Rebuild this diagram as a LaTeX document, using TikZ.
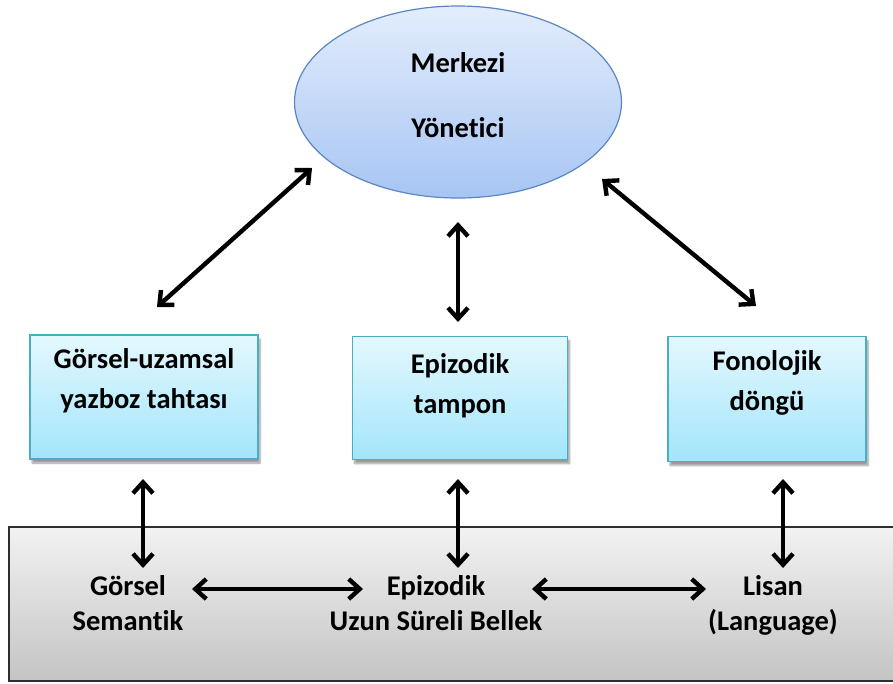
\documentclass[tikz,border=0pt]{standalone}
\usepackage{fontspec}
\setmainfont{Carlito}[Ligatures=NoCommon]
\usetikzlibrary{arrows.meta,shapes.geometric,shadows.blur}

\definecolor{ovalTop}{HTML}{E3EDFC}
\definecolor{ovalBot}{HTML}{A7C5F3}
\definecolor{ovalLine}{HTML}{5A86C2}
\definecolor{boxTop}{HTML}{E4F8FE}
\definecolor{boxBot}{HTML}{A3E5FB}
\definecolor{boxLine}{HTML}{4BACC6}
\definecolor{ltmTop}{HTML}{F2F2F2}
\definecolor{ltmBot}{HTML}{C4C4C4}
\definecolor{ltmLine}{HTML}{2E2E2E}

\tikzset{
  oval/.style={ellipse, draw=ovalLine, line width=1.2pt,
    top color=ovalTop, bottom color=ovalBot,
    minimum width=327pt, minimum height=192pt, inner sep=0pt},
  ovaltext/.style={align=center, inner sep=0pt,
    font=\fontsize{28.5}{40}\selectfont\bfseries},
  buffer/.style={rectangle, draw=boxLine, line width=1.5pt,
    top color=boxTop, bottom color=boxBot, inner sep=0pt,
    blur shadow={shadow xshift=2pt, shadow yshift=-4pt, shadow blur steps=6, shadow opacity=40}},
  boxtext/.style={align=center, inner sep=0pt,
    font=\fontsize{28.5}{40}\selectfont\bfseries},
  ltmtext/.style={align=center, inner sep=0pt,
    font=\fontsize{28.5}{35}\selectfont\bfseries},
  arr/.style={line width=4.4pt,
    {Straight Barb[length=11pt,width=20pt]}-{Straight Barb[length=11pt,width=20pt]}}
}

\begin{document}
\begin{tikzpicture}[x=1pt,y=-1pt]
  \useasboundingbox (0,0) rectangle (893,683);

  % long-term memory band
  \path[draw=ltmLine, line width=1.8pt, top color=ltmTop, bottom color=ltmBot]
    (9,527) rectangle (900,681);

  % central executive
  \node[oval] (ce) at (458,102) {};
  \node[ovaltext] (ceT) at (458,95) {Merkezi\\[25pt]Yönetici};

  % slave systems
  \node[buffer, minimum width=228pt, minimum height=124pt] (vs) at (144,397) {};
  \node[buffer, minimum width=215pt, minimum height=123pt] (eb) at (460,398) {};
  \node[buffer, minimum width=198pt, minimum height=125pt] (pl) at (767,399) {};

  \node[boxtext, anchor=north] (vsT) at (144,348) {Görsel-uzamsal\\yazboz tahtası};
  \node[boxtext, anchor=north] (ebT) at (460,353) {Epizodik\\tampon};
  \node[boxtext, anchor=north] (plT) at (767,350) {Fonolojik\\döngü};

  % long-term stores
  \node[ltmtext, anchor=north] (gs) at (128,575) {Görsel\\Semantik};
  \node[ltmtext, anchor=north] (el) at (436,575) {Epizodik\\Uzun Süreli Bellek};
  \node[ltmtext, anchor=north] (ln) at (773,575) {Lisan\\(Language)};

  % arrow end points
  \coordinate (vsUp)  at (157,307);
  \coordinate (ceL)   at (312,168);
  \coordinate (plUp)  at (756,306);
  \coordinate (ceR)   at (602,179);
  \coordinate (vsDn)  at (143,479);
  \coordinate (gsUp)  at (143,568);
  \coordinate (ebDn)  at (458,479);
  \coordinate (elUp)  at (458,568);
  \coordinate (plDn)  at (783,479);
  \coordinate (lnUp)  at (783,568);
  \coordinate (gsR)   at (192,589);
  \coordinate (elL)   at (363,589);
  \coordinate (elR)   at (532,589);
  \coordinate (lnL)   at (706,589);
  \coordinate (ceB)   at (458,222);
  \coordinate (ebUp)  at (458,322);

  % executive links
  \draw[arr] (vsUp) -- (ceL);
  \draw[arr] (ebUp) -- (ceB);
  \draw[arr] (plUp) -- (ceR);

  % buffer to long-term links
  \draw[arr] (vsDn) -- (gsUp);
  \draw[arr] (ebDn) -- (elUp);
  \draw[arr] (plDn) -- (lnUp);

  % links inside long-term memory
  \draw[arr] (gsR) -- (elL);
  \draw[arr] (elR) -- (lnL);
\end{tikzpicture}
\end{document}
